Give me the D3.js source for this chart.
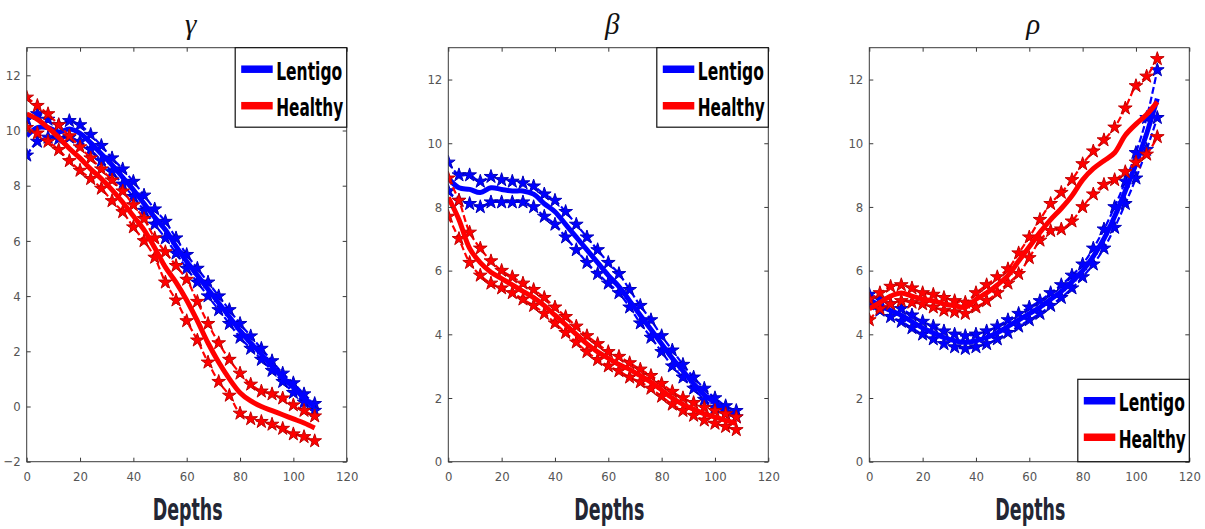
<!DOCTYPE html>
<html>
<head>
<meta charset="utf-8">
<script src="https://cdn.jsdelivr.net/npm/d3@7/dist/d3.min.js"></script>
<style>
  html, body { margin: 0; padding: 0; background: #fff; }
  svg { display: block; }
</style>
</head>
<body>
<svg id="chart" width="1205" height="529"></svg>
<script>
// ---------------- DATA ----------------
const depths = [0,4,8,12,16,20,24,28,32,36,40,44,48,52,56,60,64,68,72,76,80,84,88,92,96,100,104,108];

const xTickValues = [0,20,40,60,80,100,120];
const yTicksGamma = [-2,0,2,4,6,8,10,12];
const yTicksOther = [0,2,4,6,8,10,12];
const seriesNames = ["Lentigo","Healthy"];
const panelTitles = ["γ","β","ρ"];
const xLabel = "Depths";

// gamma
const gammaLentigoUpper = [10.4,10.6,10.4,10.2,10.35,10.2,9.85,9.45,9.0,8.6,8.15,7.65,7.15,6.7,6.1,5.5,5.0,4.5,4.0,3.5,3.0,2.55,2.1,1.65,1.2,0.85,0.45,0.1];
const gammaLentigoMean  = [9.8,10.1,10.1,9.95,10.05,9.9,9.55,9.15,8.75,8.3,7.85,7.35,6.85,6.4,5.8,5.25,4.75,4.25,3.75,3.25,2.75,2.3,1.9,1.45,1.05,0.7,0.3,0.0];
const gammaLentigoLower = [9.1,9.6,9.75,9.7,9.75,9.6,9.3,8.9,8.5,8.05,7.6,7.1,6.6,6.1,5.55,5.0,4.5,4.0,3.5,3.0,2.5,2.1,1.7,1.3,0.9,0.5,0.15,-0.15];
const gammaHealthyUpper = [11.2,10.9,10.6,10.2,9.8,9.4,9.0,8.6,8.2,7.8,7.3,6.8,6.1,5.6,5.1,4.6,3.8,3.0,2.3,1.7,1.2,0.8,0.55,0.45,0.3,0.05,-0.15,-0.35];
const gammaHealthyMean  = [10.6,10.4,10.1,9.75,9.35,9.0,8.6,8.25,7.85,7.4,6.9,6.4,5.75,5.05,4.5,3.85,3.1,2.3,1.6,1.0,0.5,0.2,0.0,-0.15,-0.3,-0.45,-0.6,-0.78];
const gammaHealthyLower = [10.1,9.9,9.6,9.3,8.9,8.55,8.25,7.9,7.45,7.05,6.5,6.0,5.4,4.5,3.85,3.1,2.4,1.6,0.9,0.4,-0.25,-0.45,-0.55,-0.65,-0.8,-1.0,-1.1,-1.25];

// beta
const betaLentigoUpper = [9.4,9.0,9.0,8.8,8.95,8.85,8.8,8.75,8.65,8.4,8.2,7.85,7.45,7.05,6.65,6.25,5.9,5.4,4.9,4.45,3.95,3.5,3.05,2.65,2.3,2.0,1.75,1.6];
const betaLentigoMean  = [8.9,8.6,8.55,8.45,8.6,8.55,8.5,8.5,8.4,8.1,7.85,7.45,7.05,6.65,6.25,5.85,5.5,5.05,4.6,4.15,3.7,3.25,2.85,2.45,2.1,1.85,1.6,1.5];
const betaLentigoLower = [8.5,8.2,8.1,8.0,8.15,8.15,8.15,8.15,8.0,7.7,7.45,7.05,6.65,6.25,5.9,5.6,5.3,4.85,4.35,3.9,3.45,3.0,2.65,2.3,1.95,1.7,1.5,1.4];
const betaHealthyUpper = [8.9,8.2,7.2,6.7,6.3,6.0,5.8,5.6,5.4,5.15,4.85,4.55,4.25,3.95,3.7,3.45,3.3,3.1,2.9,2.7,2.45,2.2,2.0,1.85,1.7,1.6,1.5,1.4];
const betaHealthyMean  = [8.3,7.6,6.7,6.25,5.95,5.75,5.55,5.35,5.15,4.9,4.6,4.3,4.0,3.7,3.45,3.25,3.05,2.9,2.7,2.5,2.25,2.0,1.8,1.65,1.5,1.4,1.3,1.2];
const betaHealthyLower = [7.7,7.0,6.25,5.85,5.6,5.45,5.3,5.1,4.9,4.65,4.35,4.05,3.75,3.45,3.2,3.0,2.85,2.65,2.5,2.3,2.05,1.8,1.6,1.45,1.3,1.2,1.1,1.0];

// rho
const rhoLentigoUpper = [5.25,5.1,4.95,4.8,4.6,4.4,4.25,4.1,4.0,3.95,4.0,4.1,4.25,4.45,4.65,4.85,5.05,5.3,5.55,5.85,6.2,6.7,7.3,8.0,8.8,9.7,10.8,12.3];
const rhoLentigoMean  = [5.1,4.9,4.75,4.6,4.4,4.2,4.05,3.9,3.8,3.75,3.8,3.9,4.05,4.25,4.45,4.65,4.85,5.1,5.35,5.65,6.0,6.45,7.0,7.7,8.5,9.35,10.3,11.4];
const rhoLentigoLower = [4.95,4.75,4.55,4.4,4.2,4.0,3.85,3.7,3.6,3.55,3.6,3.7,3.85,4.05,4.25,4.45,4.65,4.9,5.15,5.45,5.8,6.2,6.7,7.35,8.1,8.9,9.8,10.8];
const rhoHealthyUpper = [5.1,5.3,5.5,5.55,5.45,5.3,5.25,5.15,5.05,5.0,5.3,5.55,5.8,6.05,6.55,7.05,7.6,8.1,8.45,8.85,9.35,9.75,10.1,10.5,11.1,11.8,12.1,12.65];
const rhoHealthyMean  = [4.8,5.0,5.2,5.3,5.2,5.1,5.05,4.95,4.9,4.85,5.1,5.3,5.55,5.85,6.3,6.75,7.2,7.6,7.95,8.35,8.85,9.2,9.45,9.7,10.25,10.6,10.9,11.3];
const rhoHealthyLower = [4.45,4.8,4.95,5.05,5.0,4.95,4.85,4.75,4.7,4.65,4.85,5.05,5.3,5.6,5.9,6.4,6.95,7.25,7.3,7.55,8.0,8.4,8.7,8.85,9.1,9.4,9.65,10.2];

// ---------------- LAYOUT / STYLE ----------------
const colors = { Lentigo: "#0000ff", Healthy: "#ff0000" };
const edgeColors = { Lentigo: "#0000b8", Healthy: "#c00000" };

const panels = [
  { title: panelTitles[0], left: 26.7, yDomain: [-2,13], yTicks: yTicksGamma, legend: "top",
    series: { Lentigo: [gammaLentigoUpper, gammaLentigoMean, gammaLentigoLower],
              Healthy: [gammaHealthyUpper, gammaHealthyMean, gammaHealthyLower] } },
  { title: panelTitles[1], left: 448.3, yDomain: [0,13], yTicks: yTicksOther, legend: "top",
    series: { Lentigo: [betaLentigoUpper, betaLentigoMean, betaLentigoLower],
              Healthy: [betaHealthyUpper, betaHealthyMean, betaHealthyLower] } },
  { title: panelTitles[2], left: 869.3, yDomain: [0,13], yTicks: yTicksOther, legend: "bottom",
    series: { Lentigo: [rhoLentigoUpper, rhoLentigoMean, rhoLentigoLower],
              Healthy: [rhoHealthyUpper, rhoHealthyMean, rhoHealthyLower] } }
];

const plotW = 320, plotTop = 47.7, plotBottom = 461.7;
const narrowFont = "'Liberation Sans Narrow','Arial Narrow','DejaVu Sans Condensed',sans-serif";
const svg = d3.select("#chart");

panels.forEach((p, pi) => {
  const x = d3.scaleLinear().domain([0,120]).range([p.left, p.left + plotW]);
  const y = d3.scaleLinear().domain(p.yDomain).range([plotBottom, plotTop]);
  const g = svg.append("g");

  const clipId = "clip" + pi;
  svg.append("clipPath").attr("id", clipId).append("rect")
    .attr("x", p.left).attr("y", plotTop).attr("width", plotW).attr("height", plotBottom - plotTop);

  const data = g.append("g").attr("clip-path", `url(#${clipId})`);
  const line = d3.line().x((d,i) => x(depths[i])).y(d => y(d)).curve(d3.curveCatmullRom.alpha(0.5));

  seriesNames.forEach(name => {
    const [upper, mean, lower] = p.series[name];
    [upper, lower].forEach(arr => {
      data.append("path").datum(arr)
        .attr("d", line).attr("fill", "none")
        .attr("stroke", colors[name]).attr("stroke-width", 2.2)
        .attr("stroke-dasharray", "7,3");
      data.append("g").selectAll("path").data(arr).join("path")
        .attr("transform", (d,i) => `translate(${x(depths[i])},${y(d)})`)
        .attr("d", d3.symbol(d3.symbolStar, 58))
        .attr("fill", colors[name]).attr("stroke", edgeColors[name]).attr("stroke-width", 1);
    });
    data.append("path").datum(mean)
      .attr("d", line).attr("fill", "none")
      .attr("stroke", colors[name]).attr("stroke-width", 5)
      .attr("stroke-linejoin", "round");
  });

  g.append("rect").attr("x", p.left).attr("y", plotTop).attr("width", plotW).attr("height", plotBottom - plotTop)
    .attr("fill", "none").attr("stroke", "#3a3a3a").attr("stroke-width", 1);

  const axisStyle = sel => {
    sel.select(".domain").remove();
    sel.selectAll("line").attr("stroke", "#3a3a3a");
    sel.selectAll("text").attr("fill", "#555").style("font-family", narrowFont).style("font-size", "13px");
  };
  g.append("g").attr("transform", `translate(0,${plotBottom})`)
    .call(d3.axisBottom(x).tickValues(xTickValues).tickSizeInner(-4).tickSizeOuter(0).tickPadding(10).tickFormat(d3.format("d")))
    .call(axisStyle);
  g.append("g").attr("transform", `translate(0,${plotTop})`)
    .call(d3.axisTop(x).tickValues(xTickValues).tickSizeInner(-4).tickSizeOuter(0).tickFormat(""))
    .call(axisStyle);
  g.append("g").attr("transform", `translate(${p.left},0)`)
    .call(d3.axisLeft(y).tickValues(p.yTicks).tickSizeInner(-4).tickSizeOuter(0).tickPadding(6).tickFormat(d3.format("d")))
    .call(axisStyle);
  g.append("g").attr("transform", `translate(${p.left + plotW},0)`)
    .call(d3.axisRight(y).tickValues(p.yTicks).tickSizeInner(-4).tickSizeOuter(0).tickFormat(""))
    .call(axisStyle);

  g.append("text").attr("x", p.left + plotW/2 + 4).attr("y", 34)
    .attr("text-anchor", "middle")
    .style("font-family", "'Liberation Serif','DejaVu Serif',serif").style("font-style", "italic")
    .style("font-size", "29px").attr("fill", "#111").text(p.title);

  g.append("text")
    .attr("transform", `translate(${p.left + plotW/2 - 34},520) scale(1,1.25)`)
    .attr("textLength", 70).attr("lengthAdjust", "spacingAndGlyphs")
    .style("font-family", narrowFont).style("font-weight", "bold")
    .style("font-size", "24px").attr("fill", "#232634").text(xLabel);

  const lw = 111.5, lh = p.legend === "top" ? 79.5 : 82.4;
  const lx = p.left + plotW - lw;
  const ly = p.legend === "top" ? plotTop : plotBottom - lh;
  const leg = g.append("g");
  leg.append("rect").attr("x", lx).attr("y", ly).attr("width", lw).attr("height", lh)
    .attr("fill", "#fff").attr("stroke", "#111").attr("stroke-width", 1.2);
  seriesNames.forEach((name, i) => {
    const yy = ly + 21.5 + i * 36.5;
    leg.append("line").attr("x1", lx + 6).attr("x2", lx + 37.5).attr("y1", yy).attr("y2", yy)
      .attr("stroke", colors[name]).attr("stroke-width", 7.5);
    leg.append("text")
      .attr("transform", `translate(${lx + 41},${yy + 10.5}) scale(1,1.22)`)
      .attr("textLength", name === "Lentigo" ? 66 : 67).attr("lengthAdjust", "spacingAndGlyphs")
      .style("font-family", narrowFont).style("font-weight", "bold")
      .style("font-size", "21px").attr("fill", "#000").text(name);
  });
});
</script>
</body>
</html>
